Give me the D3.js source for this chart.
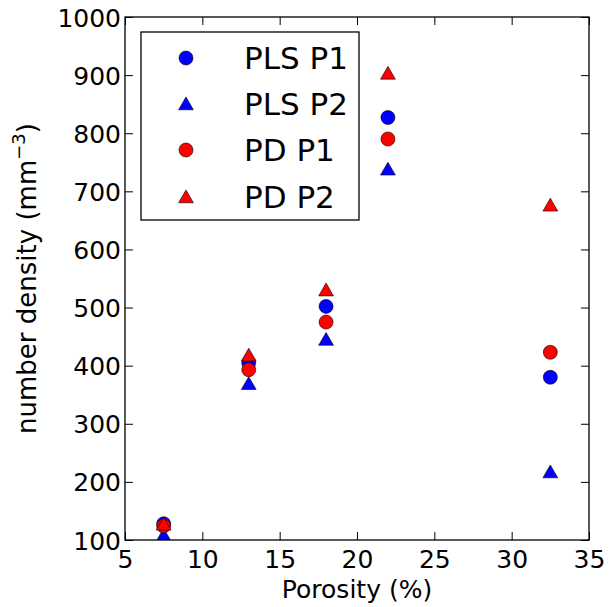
<!DOCTYPE html>
<html>
<head>
<meta charset="utf-8">
<script src="https://cdn.jsdelivr.net/npm/d3@7"></script>
<style>
  html, body { margin: 0; padding: 0; background: #fff; }
  svg { display: block; font-family: "DejaVu Sans", sans-serif; }
</style>
</head>
<body>
<svg id="chart" width="609" height="607"></svg>
<script>
// Porosity (%) of each sample
const porosity = [7.5, 13.0, 18.0, 22.0, 32.5];
// Number density (mm^-3) per method / phase
const plsP1 = [128, 405, 502, 827, 380];
const plsP2 = [108, 369, 445, 738, 217];
const pdP1  = [124, 393, 475, 790, 423];
const pdP2  = [127, 418, 530, 903, 676];

const seriesNames = ["PLS P1", "PLS P2", "PD P1", "PD P2"];
const seriesValues = [plsP1, plsP2, pdP1, pdP2];
const seriesColors = ["#0000ff", "#0000ff", "#ff0000", "#ff0000"];
const seriesShapes = ["circle", "triangle", "circle", "triangle"];

const xTicks = [5, 10, 15, 20, 25, 30, 35];
const yTicks = [100, 200, 300, 400, 500, 600, 700, 800, 900, 1000];

const svg = d3.select("#chart");
const plotLeft = 125, plotRight = 589, plotTop = 17, plotBottom = 540;

const x = d3.scaleLinear().domain([5, 35]).range([plotLeft, plotRight]);
const y = d3.scaleLinear().domain([100, 1000]).range([plotBottom, plotTop]);

const symCircle = d3.symbol().type(d3.symbolCircle).size(Math.PI * 7 * 7);
const symTri = d3.symbol().type(d3.symbolTriangle).size(95);
function shapePath(s) { return s === "circle" ? symCircle() : symTri(); }
function shapeOffset(s) { return s === "circle" ? 0 : 1.5; }

// Clip markers to the axes area
svg.append("clipPath").attr("id", "plotclip")
  .append("rect").attr("x", plotLeft).attr("y", plotTop)
  .attr("width", plotRight - plotLeft).attr("height", plotBottom - plotTop);

// Data markers
const plot = svg.append("g").attr("clip-path", "url(#plotclip)");
seriesValues.forEach((vals, i) => {
  plot.append("g").selectAll("path")
    .data(vals.map((v, j) => [porosity[j], v]))
    .join("path")
    .attr("d", shapePath(seriesShapes[i]))
    .attr("transform", d => `translate(${x(d[0])},${y(d[1]) + shapeOffset(seriesShapes[i])})`)
    .attr("fill", seriesColors[i])
    .attr("stroke", "#000")
    .attr("stroke-width", 0.6);
});

// Axes: ticks point inwards on all four sides
const tickLen = 8;
const fontSize = 25;
const fmt = d3.format("d");
const axBottom = svg.append("g").attr("transform", `translate(0,${plotBottom})`)
  .call(d3.axisBottom(x).tickValues(xTicks).tickFormat(fmt).tickSizeInner(-tickLen).tickSizeOuter(0).tickPadding(10));
const axTop = svg.append("g").attr("transform", `translate(0,${plotTop})`)
  .call(d3.axisTop(x).tickValues(xTicks).tickSizeInner(-tickLen).tickSizeOuter(0).tickFormat(""));
const axLeft = svg.append("g").attr("transform", `translate(${plotLeft},0)`)
  .call(d3.axisLeft(y).tickValues(yTicks).tickFormat(fmt).tickSizeInner(-tickLen).tickSizeOuter(0).tickPadding(4));
const axRight = svg.append("g").attr("transform", `translate(${plotRight},0)`)
  .call(d3.axisRight(y).tickValues(yTicks).tickSizeInner(-tickLen).tickSizeOuter(0).tickFormat(""));

[axBottom, axTop, axLeft, axRight].forEach(a => {
  a.select(".domain").remove();
  a.selectAll(".tick line").attr("stroke", "#000").attr("stroke-width", 1);
  a.selectAll(".tick text").attr("font-size", fontSize).attr("fill", "#000")
    .attr("font-family", "DejaVu Sans");
});
axBottom.selectAll(".tick text").attr("dy", "0.71em");
axLeft.selectAll(".tick text").attr("dy", "0.36em");

// Frame
svg.append("rect").attr("x", plotLeft).attr("y", plotTop)
  .attr("width", plotRight - plotLeft).attr("height", plotBottom - plotTop)
  .attr("fill", "none").attr("stroke", "#000").attr("stroke-width", 1.3);

// Axis labels
const labelSize = 25;
svg.append("text").attr("x", (plotLeft + plotRight) / 2).attr("y", 598)
  .attr("text-anchor", "middle").attr("font-size", labelSize).text("Porosity (%)");

const yl = svg.append("text")
  .attr("transform", `translate(36,${(plotTop + plotBottom) / 2}) rotate(-90)`)
  .attr("text-anchor", "middle").attr("font-size", 26);
yl.append("tspan").text("number density (mm");
yl.append("tspan").attr("dy", -11).attr("font-size", 18).text("\u22123");
yl.append("tspan").attr("dy", 11).text(")");

// Legend
const lg = svg.append("g");
lg.append("rect").attr("x", 141).attr("y", 32).attr("width", 218).attr("height", 188)
  .attr("fill", "#fff").attr("stroke", "#000").attr("stroke-width", 1.3);
const rowY = [58, 104, 150, 197];
seriesNames.forEach((name, i) => {
  lg.append("path").attr("d", shapePath(seriesShapes[i]))
    .attr("transform", `translate(186,${rowY[i] + shapeOffset(seriesShapes[i])})`)
    .attr("fill", seriesColors[i]).attr("stroke", "#000").attr("stroke-width", 0.6);
  lg.append("text").attr("x", 244).attr("y", rowY[i]).attr("dy", "0.36em")
    .attr("font-size", 31).text(name);
});
</script>
</body>
</html>
